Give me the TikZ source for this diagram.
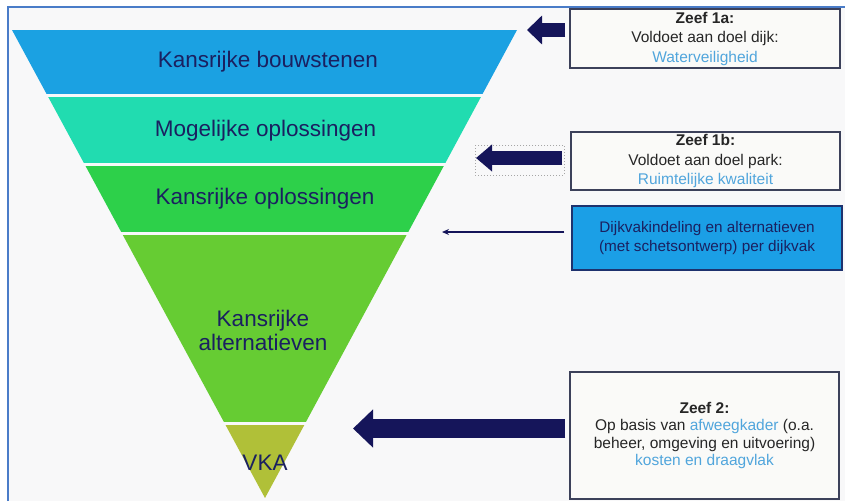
\documentclass[tikz,border=0pt]{standalone}
\usepackage{fontspec}
\setmainfont{Liberation Sans}
\usetikzlibrary{arrows.meta}
\definecolor{bgc}{HTML}{F8F8F9}
\definecolor{framec}{HTML}{4A7CC8}
\definecolor{cA}{HTML}{1BA1E2}
\definecolor{cB}{HTML}{21DCB0}
\definecolor{cC}{HTML}{2DD04A}
\definecolor{cD}{HTML}{66CC33}
\definecolor{cE}{HTML}{B0C038}
\definecolor{navyT}{HTML}{1A2060}
\definecolor{navyA}{HTML}{15155A}
\definecolor{boxc}{HTML}{3C415A}
\definecolor{boxfill}{HTML}{FAFAF8}
\definecolor{txt}{HTML}{262626}
\definecolor{hl}{HTML}{50A5DC}
\definecolor{bthree}{HTML}{1B9FE6}
\definecolor{bthreeborder}{HTML}{1E326E}
\begin{document}
\begin{tikzpicture}[x=1pt,y=-1pt,
  flabel/.style={font=\fontsize{22.5}{24}\selectfont, text=navyT, align=center, inner sep=0pt},
  zbox/.style={draw=boxc, line width=1.2pt, fill=boxfill, align=center, inner sep=0pt,
    font=\fontsize{15.5}{19.5}\selectfont, text=txt},
  fatarrow/.style={draw=navyA}
]
\useasboundingbox (0,0) rectangle (845,501);
\fill[white] (0,0) rectangle (845,501);
\fill[bgc] (7.5,6.5) rectangle (845,501);
\draw[framec, line width=2pt] (7.5,501) -- (7.5,6.5) -- (845,6.5);

% funnel
\begin{scope}
\clip (12,30) -- (517,30) -- (265,498) -- cycle;
\fill[cA] (0,30) rectangle (530,94);
\fill[cB] (0,97) rectangle (530,163);
\fill[cC] (0,166) rectangle (530,232);
\fill[cD] (0,235) rectangle (530,422);
\fill[cE] (0,425) rectangle (530,498);
\end{scope}

\node[flabel] (l1) at (268,62) {Kansrijke bouwstenen};
\node[flabel] (l2) at (265.5,131) {Mogelijke oplossingen};
\node[flabel] (l3) at (265,199) {Kansrijke oplossingen};
\node[flabel] (l4) at (263,330) {Kansrijke\\alternatieven};
\node[flabel] (l5) at (265,463) {VKA};

% boxes
\node[zbox, minimum width=270pt, minimum height=59pt] (z1a) at (705,38.5)
  {\textbf{Zeef 1a:}\\Voldoet aan doel dijk:\\\textcolor{hl}{Waterveiligheid}};
\node[zbox, minimum width=269pt, minimum height=58pt] (z1b) at (705.5,161)
  {\textbf{Zeef 1b:}\\Voldoet aan doel park:\\\textcolor{hl}{Ruimtelijke kwaliteit}};
\node[draw=bthreeborder, line width=1.2pt, fill=bthree, minimum width=270pt, minimum height=64pt,
  text=navyT, align=center, inner sep=0pt, font=\fontsize{15.3}{19}\selectfont] (b3) at (707,238)
  {Dijkvakindeling en alternatieven\\(met schetsontwerp) per dijkvak};
\node[zbox, minimum width=269pt, minimum height=127pt, font=\fontsize{15.5}{17.5}\selectfont] (z2) at (704.5,435.5)
  {\textbf{Zeef 2:}\\Op basis van \textcolor{hl}{afweegkader} (o.a.\\beheer, omgeving en uitvoering)\\\textcolor{hl}{kosten en draagvlak}};

% arrows
\coordinate (a1t) at (527,30);
\draw[fatarrow, line width=14pt, -{Triangle[length=15pt,width=28pt]}, shorten <=4pt] (z1a.west |- a1t) -- (a1t);

\coordinate (a2t) at (476,158);
\draw[gray!70, dotted, line width=1pt] (475,145) rectangle (564,175);
\draw[fatarrow, line width=14pt, -{Triangle[length=16pt,width=26pt]}, shorten <=8pt] (z1b.west |- a2t) -- (a2t);

\coordinate (a4t) at (442,232);
\draw[navyA, line width=1.2pt, -{Stealth[length=7pt,width=6pt]}, shorten <=7pt] (b3.west |- a4t) -- (a4t);

\coordinate (a3t) at (353,428.5);
\draw[fatarrow, line width=19pt, -{Triangle[length=20pt,width=37pt]}, shorten <=4pt] (z2.west |- a3t) -- (a3t);
\end{tikzpicture}
\end{document}
